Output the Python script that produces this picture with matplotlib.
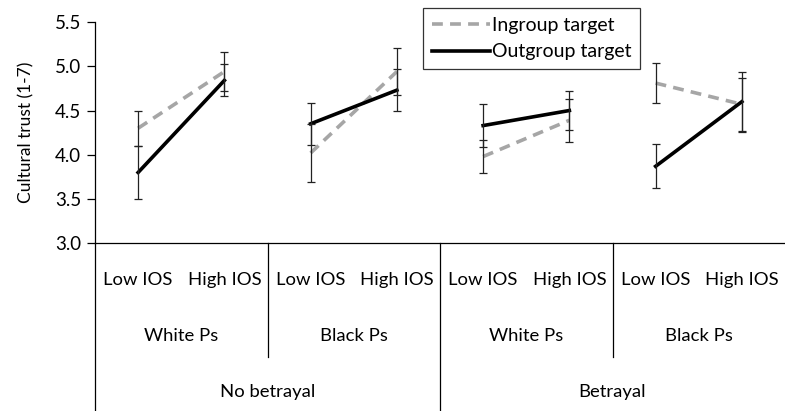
import numpy as np
import matplotlib
matplotlib.use("Agg")
import matplotlib.pyplot as plt
import matplotlib.transforms as transforms

# values
ios_labels = ["Low IOS", "High IOS", "Low IOS", "High IOS",
              "Low IOS", "High IOS", "Low IOS", "High IOS"]
participants = ["White Ps", "Black Ps", "White Ps", "Black Ps"]
conditions = ["No betrayal", "Betrayal"]

ingroup = [4.30, 4.94, 4.02, 4.94, 3.98, 4.39, 4.81, 4.57]
ingroup_err = [0.20, 0.22, 0.33, 0.27, 0.19, 0.24, 0.23, 0.30]
outgroup = [3.80, 4.84, 4.35, 4.73, 4.33, 4.50, 3.87, 4.60]
outgroup_err = [0.30, 0.18, 0.24, 0.24, 0.24, 0.22, 0.25, 0.34]

plt.rcParams['font.family'] = ['Lato', 'DejaVu Sans']

fig = plt.figure(figsize=(7.85, 4.11), dpi=100)
ax = fig.add_axes([95 / 785, 1 - 243.3 / 411, 690 / 785, 221.3 / 411])

x = np.arange(len(ios_labels))

for g in range(4):
    i = [2 * g, 2 * g + 1]
    ax.plot(x[i], [ingroup[k] for k in i], color='#a6a6a6', lw=2.6,
            dashes=(3, 2), label='Ingroup target' if g == 0 else None, zorder=2)
    ax.plot(x[i], [outgroup[k] for k in i], color='black', lw=2.6,
            label='Outgroup target' if g == 0 else None, zorder=3)

ax.errorbar(x, ingroup, yerr=ingroup_err, fmt='none', ecolor='#222222',
            elinewidth=0.9, capsize=3.2, capthick=0.9, zorder=4)
ax.errorbar(x, outgroup, yerr=outgroup_err, fmt='none', ecolor='#222222',
            elinewidth=0.9, capsize=3.2, capthick=0.9, zorder=4)

ax.set_xlim(-0.5, 7.5)
ax.set_ylim(3.0, 5.5)
ax.set_yticks(np.arange(3.0, 5.51, 0.5))
ax.set_yticklabels(["%.1f" % v for v in np.arange(3.0, 5.51, 0.5)], fontsize=13.5)
ax.set_xticks([])
ax.tick_params(axis='y', direction='out', length=6, width=0.9, pad=4)
ax.spines['top'].set_visible(False)
ax.spines['right'].set_visible(False)
ax.spines['left'].set_linewidth(0.9)
ax.spines['bottom'].set_linewidth(0.9)
ax.set_ylabel("Cultural trust (1-7)", fontsize=12.5)
ax.yaxis.set_label_coords(-0.088, 0.5)

# hierarchical category axis below the plot
tr = transforms.blended_transform_factory(ax.transData, fig.transFigure)
y_axis = 1 - 243.3 / 411
ax.plot([-0.5, -0.5], [0, y_axis], transform=tr, color='black', lw=0.9, clip_on=False)
ax.plot([3.5, 3.5], [0, y_axis], transform=tr, color='black', lw=0.9, clip_on=False)
for s in [1.5, 5.5]:
    ax.plot([s, s], [1 - 357 / 411, y_axis], transform=tr, color='black', lw=0.9, clip_on=False)

for k, lab in enumerate(ios_labels):
    ax.text(x[k], 1 - 280 / 411, lab, transform=tr, ha='center', va='center', fontsize=13.3)
for g, lab in enumerate(participants):
    ax.text(2 * g + 0.5, 1 - 336 / 411, lab, transform=tr, ha='center', va='center', fontsize=13.3)
for c, lab in enumerate(conditions):
    ax.text(4 * c + 1.5, 1 - 392 / 411, lab, transform=tr, ha='center', va='center', fontsize=13.3)

leg = ax.legend(loc='upper left', bbox_to_anchor=(423 / 785, 1 - 8 / 411),
                bbox_transform=fig.transFigure, fontsize=14, frameon=True,
                fancybox=False, handlelength=3.0, handletextpad=0.1,
                borderpad=0.45, labelspacing=0.5, borderaxespad=0)
leg.get_frame().set_edgecolor('black')
leg.get_frame().set_linewidth(0.9)

fig.savefig("out.png", dpi=100)
